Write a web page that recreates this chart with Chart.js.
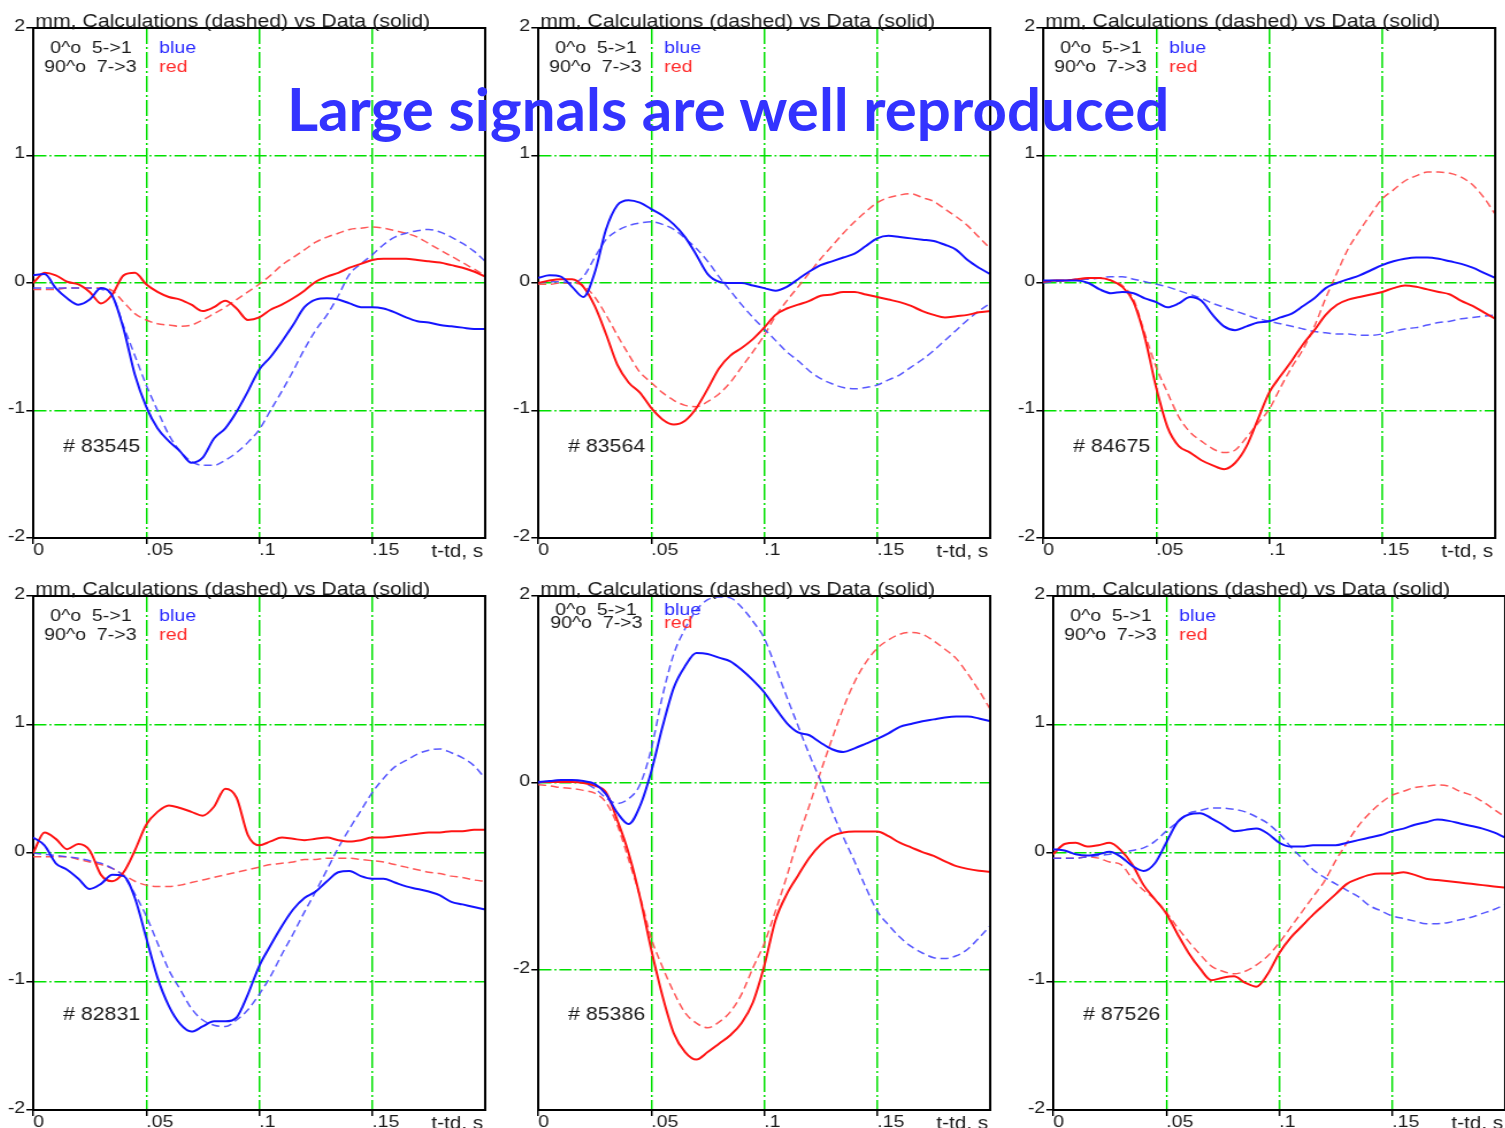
<!DOCTYPE html>
<html>
<head>
<meta charset="utf-8">
<title>Calculations vs Data</title>
<script src="https://cdn.jsdelivr.net/npm/chart.js@4.4.1/dist/chart.umd.min.js"></script>
<style>
  html, body { margin: 0; padding: 0; background: #fff; width: 1505px; height: 1128px; overflow: hidden; }
  .panel { position: absolute; transform-origin: 0 0; transform: scaleX(1.15); }
  .panel canvas { display: block; }
  #headline {
    position: absolute; left: 287px; top: 78px; z-index: 5;
    font-family: Lato, 'Open Sans', sans-serif; font-weight: 700; font-size: 60px; line-height: 60px;
    color: #3333ff; white-space: nowrap;
  }
</style>
</head>
<body>
<script>
// time after the reference moment, s
const tSec = [0, 0.005, 0.01, 0.015, 0.02, 0.025, 0.03, 0.035, 0.04, 0.045, 0.05, 0.055, 0.06, 0.065, 0.07, 0.075, 0.08, 0.085, 0.09, 0.095,
              0.1, 0.105, 0.11, 0.115, 0.12, 0.125, 0.13, 0.135, 0.14, 0.145, 0.15, 0.155, 0.16, 0.165, 0.17, 0.175, 0.18, 0.185, 0.19, 0.195, 0.2];

const xTickValues = [0, 0.05, 0.1, 0.15];
const xTickLabels = ['0', '.05', '.1', '.15'];
const yTicksUnit = [2, 1, 0, -1, -2];
const yTicks85386 = [2, 0, -2];

const shotIds = ['83545', '83564', '84675', '82831', '85386', '87526'];

// shot 83545
const data83545Blue = [0.06,0.07,-0.04,-0.12,-0.17,-0.13,-0.04,-0.10,-0.36,-0.72,-0.97,-1.14,-1.24,-1.32,-1.41,-1.37,-1.22,-1.14,-1.01,-0.85,-0.68,-0.58,-0.46,-0.33,-0.19,-0.13,-0.12,-0.13,-0.16,-0.19,-0.19,-0.20,-0.23,-0.27,-0.30,-0.31,-0.33,-0.34,-0.35,-0.36,-0.36];
const calc83545Blue = [-0.04,-0.04,-0.04,-0.04,-0.04,-0.04,-0.05,-0.10,-0.34,-0.57,-0.80,-1.00,-1.19,-1.32,-1.40,-1.43,-1.43,-1.39,-1.33,-1.25,-1.15,-1.00,-0.85,-0.69,-0.52,-0.37,-0.25,-0.10,0.07,0.15,0.22,0.30,0.36,0.39,0.41,0.42,0.40,0.36,0.31,0.25,0.17];
const data83545Red  = [0.00,0.08,0.06,0.01,-0.01,-0.07,-0.16,-0.09,0.06,0.08,-0.01,-0.07,-0.11,-0.13,-0.17,-0.22,-0.19,-0.14,-0.20,-0.29,-0.27,-0.21,-0.17,-0.12,-0.06,0.01,0.05,0.08,0.12,0.15,0.18,0.19,0.19,0.19,0.18,0.17,0.16,0.14,0.12,0.09,0.05];
const calc83545Red  = [-0.05,-0.05,-0.05,-0.04,-0.04,-0.04,-0.04,-0.06,-0.15,-0.24,-0.29,-0.32,-0.33,-0.34,-0.33,-0.29,-0.24,-0.19,-0.13,-0.07,-0.01,0.06,0.14,0.20,0.26,0.32,0.36,0.39,0.42,0.43,0.44,0.43,0.41,0.39,0.36,0.31,0.26,0.21,0.16,0.11,0.06];

// shot 83564
const data83564Blue = [0.04,0.06,0.05,-0.03,-0.11,0.08,0.42,0.61,0.65,0.63,0.58,0.53,0.46,0.36,0.22,0.07,0.01,0.00,0.00,-0.02,-0.04,-0.06,-0.03,0.03,0.09,0.14,0.17,0.20,0.23,0.29,0.35,0.37,0.36,0.35,0.34,0.33,0.30,0.26,0.18,0.12,0.07];
const calc83564Blue = [0.00,0.01,0.01,0.00,0.05,0.20,0.34,0.41,0.45,0.47,0.48,0.46,0.42,0.35,0.27,0.17,0.05,-0.06,-0.17,-0.27,-0.36,-0.45,-0.54,-0.61,-0.69,-0.75,-0.79,-0.82,-0.83,-0.82,-0.80,-0.76,-0.72,-0.66,-0.60,-0.53,-0.45,-0.37,-0.29,-0.22,-0.16];
const data83564Red  = [0.00,0.02,0.03,0.03,-0.03,-0.18,-0.40,-0.64,-0.78,-0.86,-0.98,-1.07,-1.11,-1.08,-0.98,-0.83,-0.67,-0.57,-0.51,-0.44,-0.35,-0.25,-0.20,-0.17,-0.14,-0.10,-0.09,-0.07,-0.07,-0.09,-0.11,-0.13,-0.15,-0.18,-0.22,-0.25,-0.27,-0.26,-0.25,-0.23,-0.22];
const calc83564Red  = [-0.01,-0.01,0.00,0.00,-0.02,-0.11,-0.25,-0.41,-0.56,-0.70,-0.78,-0.86,-0.92,-0.96,-0.97,-0.93,-0.87,-0.78,-0.66,-0.54,-0.41,-0.26,-0.14,-0.03,0.08,0.19,0.29,0.39,0.48,0.56,0.63,0.67,0.69,0.70,0.67,0.64,0.58,0.52,0.45,0.36,0.27];

// shot 84675
const data84675Blue = [0.02,0.02,0.02,0.02,0.00,-0.05,-0.08,-0.07,-0.08,-0.12,-0.15,-0.19,-0.16,-0.11,-0.14,-0.25,-0.34,-0.37,-0.34,-0.31,-0.30,-0.27,-0.24,-0.18,-0.12,-0.04,0.00,0.03,0.06,0.10,0.14,0.17,0.19,0.20,0.20,0.19,0.17,0.15,0.12,0.08,0.04];
const calc84675Blue = [0.00,0.01,0.02,0.03,0.03,0.04,0.05,0.05,0.03,0.01,-0.01,-0.03,-0.06,-0.09,-0.12,-0.16,-0.19,-0.22,-0.25,-0.28,-0.30,-0.32,-0.34,-0.36,-0.38,-0.39,-0.40,-0.40,-0.41,-0.41,-0.40,-0.38,-0.36,-0.35,-0.33,-0.31,-0.30,-0.28,-0.27,-0.26,-0.25];
const data84675Red  = [0.01,0.02,0.02,0.03,0.04,0.04,0.02,-0.03,-0.15,-0.43,-0.82,-1.13,-1.28,-1.33,-1.39,-1.43,-1.46,-1.41,-1.28,-1.07,-0.86,-0.73,-0.61,-0.48,-0.37,-0.25,-0.17,-0.13,-0.11,-0.09,-0.07,-0.04,-0.02,-0.03,-0.05,-0.07,-0.09,-0.14,-0.18,-0.23,-0.28];
const calc84675Red  = [0.01,0.02,0.02,0.03,0.04,0.04,0.02,-0.02,-0.13,-0.40,-0.66,-0.86,-1.05,-1.17,-1.24,-1.30,-1.33,-1.31,-1.21,-1.10,-0.99,-0.82,-0.66,-0.52,-0.34,-0.12,0.08,0.27,0.41,0.54,0.66,0.73,0.80,0.84,0.87,0.87,0.86,0.83,0.77,0.67,0.54];

// shot 82831
const data82831Blue = [0.12,0.06,-0.08,-0.13,-0.20,-0.28,-0.24,-0.17,-0.18,-0.35,-0.66,-0.97,-1.19,-1.33,-1.39,-1.35,-1.31,-1.31,-1.28,-1.10,-0.88,-0.72,-0.57,-0.44,-0.35,-0.30,-0.22,-0.15,-0.14,-0.18,-0.20,-0.20,-0.23,-0.26,-0.28,-0.30,-0.33,-0.38,-0.40,-0.42,-0.44];
const calc82831Blue = [0.00,-0.01,-0.02,-0.03,-0.04,-0.06,-0.08,-0.12,-0.18,-0.32,-0.49,-0.70,-0.91,-1.06,-1.21,-1.30,-1.34,-1.35,-1.30,-1.22,-1.10,-0.96,-0.79,-0.63,-0.46,-0.30,-0.13,0.04,0.19,0.33,0.47,0.58,0.67,0.72,0.77,0.80,0.81,0.78,0.74,0.68,0.58];
const data82831Red  = [0.00,0.16,0.11,0.03,0.07,0.02,-0.17,-0.22,-0.15,0.02,0.22,0.32,0.37,0.35,0.32,0.29,0.36,0.50,0.43,0.14,0.06,0.09,0.12,0.11,0.10,0.11,0.12,0.10,0.09,0.10,0.12,0.12,0.13,0.14,0.15,0.16,0.16,0.17,0.17,0.18,0.18];
const calc82831Red  = [-0.03,-0.03,-0.03,-0.03,-0.05,-0.07,-0.09,-0.12,-0.17,-0.22,-0.25,-0.26,-0.26,-0.25,-0.23,-0.21,-0.19,-0.17,-0.15,-0.13,-0.11,-0.09,-0.08,-0.07,-0.05,-0.05,-0.04,-0.04,-0.04,-0.05,-0.06,-0.07,-0.09,-0.11,-0.13,-0.15,-0.16,-0.18,-0.19,-0.21,-0.22];

// shot 85386
const data85386Blue = [0.01,0.02,0.03,0.03,0.02,-0.01,-0.12,-0.32,-0.44,-0.25,0.12,0.60,1.02,1.25,1.39,1.38,1.34,1.30,1.21,1.10,0.97,0.80,0.64,0.54,0.51,0.43,0.36,0.33,0.37,0.42,0.47,0.53,0.60,0.63,0.66,0.68,0.70,0.71,0.71,0.69,0.66];
const calc85386Blue = [0.00,0.02,0.03,0.02,0.00,-0.06,-0.16,-0.22,-0.17,-0.02,0.36,0.93,1.38,1.65,1.85,1.96,1.99,1.98,1.88,1.73,1.55,1.24,0.92,0.61,0.30,0.02,-0.30,-0.58,-0.84,-1.12,-1.37,-1.52,-1.65,-1.75,-1.82,-1.87,-1.88,-1.85,-1.78,-1.66,-1.53];
const data85386Red  = [0.01,0.01,0.01,0.01,0.00,-0.03,-0.10,-0.40,-0.75,-1.22,-1.78,-2.28,-2.68,-2.88,-2.96,-2.88,-2.79,-2.70,-2.57,-2.35,-1.96,-1.47,-1.19,-0.99,-0.80,-0.66,-0.57,-0.53,-0.52,-0.52,-0.52,-0.57,-0.64,-0.69,-0.74,-0.78,-0.84,-0.89,-0.92,-0.94,-0.95];
const calc85386Red  = [-0.02,-0.03,-0.05,-0.06,-0.08,-0.11,-0.21,-0.45,-0.82,-1.21,-1.66,-1.97,-2.24,-2.46,-2.57,-2.62,-2.56,-2.45,-2.26,-1.98,-1.72,-1.37,-1.00,-0.60,-0.24,0.12,0.47,0.80,1.08,1.29,1.44,1.53,1.59,1.61,1.59,1.52,1.43,1.33,1.17,0.99,0.79];

// shot 87526
const data87526Blue = [0.03,0.02,-0.01,-0.02,-0.01,0.01,-0.03,-0.10,-0.14,-0.08,0.08,0.24,0.30,0.31,0.27,0.22,0.17,0.18,0.19,0.15,0.08,0.05,0.05,0.06,0.06,0.06,0.08,0.10,0.12,0.14,0.17,0.19,0.22,0.24,0.26,0.25,0.23,0.21,0.19,0.16,0.12];
const calc87526Blue = [-0.04,-0.04,-0.04,-0.03,-0.02,-0.01,0.00,0.02,0.04,0.09,0.17,0.24,0.31,0.33,0.35,0.35,0.34,0.32,0.28,0.23,0.15,0.05,-0.04,-0.13,-0.19,-0.24,-0.29,-0.34,-0.41,-0.45,-0.49,-0.51,-0.53,-0.55,-0.55,-0.54,-0.52,-0.50,-0.47,-0.44,-0.40];
const data87526Red  = [-0.01,0.07,0.08,0.05,0.06,0.08,0.02,-0.09,-0.25,-0.36,-0.47,-0.63,-0.78,-0.90,-0.99,-0.97,-0.96,-1.01,-1.04,-0.94,-0.78,-0.66,-0.57,-0.48,-0.40,-0.32,-0.24,-0.20,-0.17,-0.16,-0.16,-0.15,-0.17,-0.20,-0.21,-0.22,-0.23,-0.24,-0.25,-0.26,-0.27];
const calc87526Red  = [-0.04,-0.04,-0.04,-0.03,-0.04,-0.07,-0.09,-0.20,-0.29,-0.36,-0.46,-0.58,-0.69,-0.79,-0.88,-0.92,-0.94,-0.92,-0.87,-0.80,-0.70,-0.58,-0.46,-0.34,-0.22,-0.06,0.08,0.21,0.31,0.39,0.45,0.48,0.51,0.52,0.53,0.52,0.48,0.45,0.40,0.34,0.28];

const seriesByShot = {
  '83545': [data83545Blue, calc83545Blue, data83545Red, calc83545Red],
  '83564': [data83564Blue, calc83564Blue, data83564Red, calc83564Red],
  '84675': [data84675Blue, calc84675Blue, data84675Red, calc84675Red],
  '82831': [data82831Blue, calc82831Blue, data82831Red, calc82831Red],
  '85386': [data85386Blue, calc85386Blue, data85386Red, calc85386Red],
  '87526': [data87526Blue, calc87526Blue, data87526Red, calc87526Red]
};
const yRangeByShot = {
  '83545': [-2, 2], '83564': [-2, 2], '84675': [-2, 2],
  '82831': [-2, 2], '85386': [-3.5, 2], '87526': [-2, 2]
};
const yTicksByShot = {
  '83545': yTicksUnit, '83564': yTicksUnit, '84675': yTicksUnit,
  '82831': yTicksUnit, '85386': yTicks85386, '87526': yTicksUnit
};

const titleText = 'mm, Calculations (dashed) vs Data (solid)';
const legendRows = ['0^o  5->1', '90^o  7->3'];
const legendColours = ['blue', 'red'];
const axisUnit = 't-td, s';

// ---- page layout (pixels) ----
const SX = 1.15;          // horizontal stretch of every panel
const W = 425;            // canvas width before the stretch
const AXIS_W = 28;        // y-axis band
const PAD_R = 4;
const FONT = "'Liberation Sans', Arial, Helvetica, sans-serif";
const GREEN = '#00e000';
const frames = [
  { left: 1.1,    top: 0,   h: 566, plotTop: 28, plotBottom: 538, legendY: [25, 44], legendX: [17, 11] },
  { left: 505.8,  top: 0,   h: 566, plotTop: 28, plotBottom: 538, legendY: [25, 44], legendX: [17, 11] },
  { left: 1011.1, top: 0,   h: 566, plotTop: 28, plotBottom: 538, legendY: [25, 44], legendX: [17, 11] },
  { left: 1.1,    top: 566, h: 562, plotTop: 30, plotBottom: 544, legendY: [25, 44], legendX: [17, 11] },
  { left: 505.8,  top: 566, h: 562, plotTop: 30, plotBottom: 544, legendY: [19, 32], legendX: [17, 12] },
  { left: 1021.1, top: 566, h: 562, plotTop: 30, plotBottom: 544, legendY: [25, 44], legendX: [17, 11] }
];

Chart.defaults.font.family = FONT;

function annotations(shot, f) {
  return {
    id: 'panelAnnotations',
    afterDraw(chart) {
      const { ctx, chartArea: a } = chart;
      ctx.save();
      // top and right edges of the frame
      ctx.strokeStyle = '#000';
      ctx.lineWidth = 2;
      ctx.beginPath();
      ctx.moveTo(a.left - 1, a.top);
      ctx.lineTo(a.right, a.top);
      ctx.lineTo(a.right, a.bottom + 1);
      ctx.stroke();

      ctx.textBaseline = 'alphabetic';
      ctx.textAlign = 'left';
      ctx.fillStyle = '#1a1a1a';
      ctx.font = '18.5px ' + FONT;
      ctx.fillText(titleText, a.left + 2 / SX, a.top - 1.5);

      ctx.font = '17px ' + FONT;
      legendRows.forEach((row, i) => {
        ctx.fillStyle = '#1a1a1a';
        ctx.fillText(row, a.left + f.legendX[i] / SX, a.top + f.legendY[i]);
        ctx.fillStyle = i === 0 ? '#2a2aff' : '#ff2a2a';
        ctx.fillText(legendColours[i], a.left + 126 / SX, a.top + f.legendY[i]);
      });

      ctx.fillStyle = '#1a1a1a';
      ctx.font = '18.5px ' + FONT;
      ctx.fillText('# ' + shot, a.left + 30 / SX, a.top + 424);

      ctx.textAlign = 'right';
      ctx.font = '18px ' + FONT;
      ctx.fillText(axisUnit, a.right - 2 / SX, a.bottom + 18.5);
      ctx.restore();
    }
  };
}

function lineSet(values, colour, width, dash) {
  return {
    data: tSec.map((t, i) => ({ x: t, y: values[i] })),
    borderColor: colour,
    borderWidth: width,
    borderDash: dash,
    pointRadius: 0,
    fill: false,
    cubicInterpolationMode: 'monotone'
  };
}

shotIds.forEach((shot, idx) => {
  const f = frames[idx];
  const [bData, bCalc, rData, rCalc] = seriesByShot[shot];
  const [yMin, yMax] = yRangeByShot[shot];
  const yTicks = yTicksByShot[shot];

  const wrap = document.createElement('div');
  wrap.className = 'panel';
  wrap.style.left = f.left + 'px';
  wrap.style.top = f.top + 'px';
  wrap.style.width = W + 'px';
  wrap.style.height = f.h + 'px';
  const canvas = document.createElement('canvas');
  canvas.width = W;
  canvas.height = f.h;
  wrap.appendChild(canvas);
  document.body.appendChild(wrap);

  new Chart(canvas, {
    type: 'line',
    data: {
      datasets: [
        lineSet(bData, '#1414ff', 2, []),
        lineSet(rData, '#ff1414', 2, []),
        lineSet(bCalc, 'rgba(70,70,255,0.9)', 1.5, [7, 4]),
        lineSet(rCalc, 'rgba(255,70,70,0.9)', 1.5, [7, 4])
      ]
    },
    options: {
      responsive: false,
      animation: false,
      devicePixelRatio: 1,
      layout: { padding: { top: f.plotTop, right: PAD_R, left: 0, bottom: 0 } },
      plugins: { legend: { display: false }, tooltip: { enabled: false }, title: { display: false } },
      scales: {
        x: {
          type: 'linear', min: 0, max: 0.2,
          afterBuildTicks: s => { s.ticks = xTickValues.map(v => ({ value: v })); },
          afterFit: s => { s.height = f.h - f.plotBottom; },
          ticks: {
            autoSkip: false, maxRotation: 0, align: 'start', padding: -2.5,
            color: '#1a1a1a', font: { size: 17, lineHeight: 1 },
            callback: v => xTickLabels[xTickValues.indexOf(v)]
          },
          grid: {
            color: c => (c.tick && c.tick.value === 0) ? 'rgba(0,0,0,0)' : GREEN,
            lineWidth: 1.5, tickColor: '#000', tickLength: 6, tickWidth: 1.5
          },
          border: { display: true, color: '#000', width: 2, dash: [16, 3, 2, 3] }
        },
        y: {
          min: yMin, max: yMax,
          afterBuildTicks: s => { s.ticks = yTicks.map(v => ({ value: v })); },
          afterFit: s => { s.width = AXIS_W; },
          ticks: {
            autoSkip: false, padding: 1, labelOffset: -2,
            color: '#1a1a1a', font: { size: 17 },
            callback: v => String(v)
          },
          grid: {
            color: c => (c.tick && (c.tick.value === yMax || c.tick.value === yMin)) ? 'rgba(0,0,0,0)' : GREEN,
            lineWidth: 1.5, tickColor: '#000', tickLength: 6, tickWidth: 1.5
          },
          border: { display: true, color: '#000', width: 2, dash: [10.5, 2.6, 1.7, 2.6] }
        }
      }
    },
    plugins: [annotations(shot, f)]
  });
});
</script>
<div id="headline">Large signals are well reproduced</div>
</body>
</html>
